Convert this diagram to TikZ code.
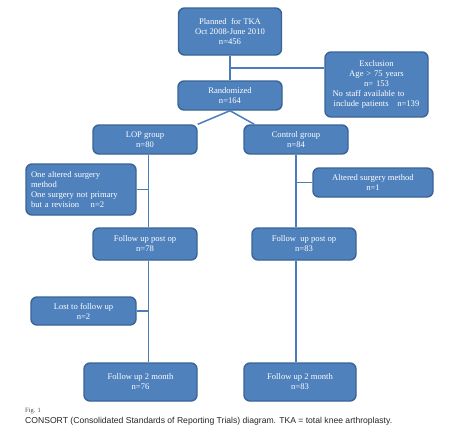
\documentclass[tikz,border=0pt]{standalone}
\usepackage{fontspec}
\setmainfont{Liberation Serif}
\newfontfamily\capfont{Liberation Sans}
\definecolor{boxblue}{HTML}{4F81BD}
\definecolor{boxedge}{HTML}{3A6496}
\definecolor{linkblue}{HTML}{4A7EBB}

\begin{document}
\begin{tikzpicture}[x=10pt,y=10pt,
	box/.style={draw=boxedge, line width=1.4pt, fill=boxblue, rounded corners=6pt, text=white, font=\fontsize{8.6}{10}\selectfont, align=center, inner sep=2pt},
	link/.style={draw=linkblue, line width=1.5pt}]
	\fill[white] (0,0) rectangle (45.7,-43.1);
	\useasboundingbox (0,0) rectangle (45.7,-43.1);
	\draw (23.0,-3.15) node[box, minimum width=103pt, minimum height=47pt] (plan) {Planned\ \ for TKA\\Oct 2008-June 2010\\n=456};
	\draw (37.65,-8.45) node[box, minimum width=103pt, minimum height=65pt, text width=88pt] (excl) {Exclusion\\Age > 75 years\\n= 153\par\raggedright\noindent No staff available to\\include patients\ \ \ n=139};
	\draw (23.0,-9.55) node[box, minimum width=104pt, minimum height=29pt] (rand) {Randomized\\n=164};
	\draw (14.5,-13.95) node[box, minimum width=104pt, minimum height=29pt] (lop) {LOP group\\n=80};
	\draw (29.6,-13.95) node[box, minimum width=104pt, minimum height=29pt] (ctrl) {Control group\\n=84};
	\draw (8.1,-18.95) node[box, minimum width=110pt, minimum height=51pt, text width=100pt, align=left] (lopex) {One altered surgery\\method\\One surgery not primary\\but a revision\ \ \ \ n=2};
	\draw (37.3,-18.25) node[box, minimum width=120pt, minimum height=29pt] (ctrlex) {Altered surgery method\\n=1};
	\draw (14.5,-24.4) node[box, minimum width=104pt, minimum height=32pt] (lopfu) {Follow up post op\\n=78};
	\draw (30.4,-24.4) node[box, minimum width=104pt, minimum height=32pt] (ctrlfu) {Follow\ \ up post op\\n=83};
	\draw (8.35,-31.1) node[box, minimum width=105pt, minimum height=28pt] (lost) {Lost to follow up\\n=2};
	\draw (14.05,-38.2) node[box, minimum width=113pt, minimum height=38pt] (lopmo) {Follow up 2 month\\n=76};
	\draw (30.0,-38.2) node[box, minimum width=112pt, minimum height=38pt] (ctrlmo) {Follow up 2 month\\n=83};
	\coordinate (split) at (23.0,-6.8);
	\coordinate (lopaxis) at ([xshift=3.5pt]lop.south);
	\draw[link] (plan.south) -- (rand.north);
	\draw[link] (split) -- (split -| excl.west);
	\draw[link] (rand.south) -- (lop.north east);
	\draw[link] (rand.south) -- ([xshift=11pt]ctrl.north west);
	\draw[link] (lopaxis) -- (lopaxis |- lopfu.north);
	\draw[link] (lopex.east) -- (lopex.east -| lopaxis);
	\draw[link] (lopaxis |- lopfu.south) -- (lopaxis |- lopmo.north);
	\draw[link] (lost.east) -- (lost.east -| lopaxis);
	\draw[link] (ctrl.south) -- (ctrl.south |- ctrlfu.north);
	\draw[link] (ctrlex.west) -- (ctrlex.west -| ctrl.south);
	\draw[link] (ctrl.south |- ctrlfu.south) -- (ctrl.south |- ctrlmo.north);
	\draw (2.5,-41.2) node[anchor=base west, text=black!70, font=\fontsize{6.5}{7}\selectfont, inner sep=0pt] (fig) {Fig. 1};
	\draw (2.5,-42.3) node[anchor=base west, text=black!85, font=\capfont\fontsize{8.6}{10}\selectfont, inner sep=0pt] (cap) {CONSORT (Consolidated Standards of Reporting Trials) diagram. TKA = total knee arthroplasty.};
\end{tikzpicture}
\end{document}
